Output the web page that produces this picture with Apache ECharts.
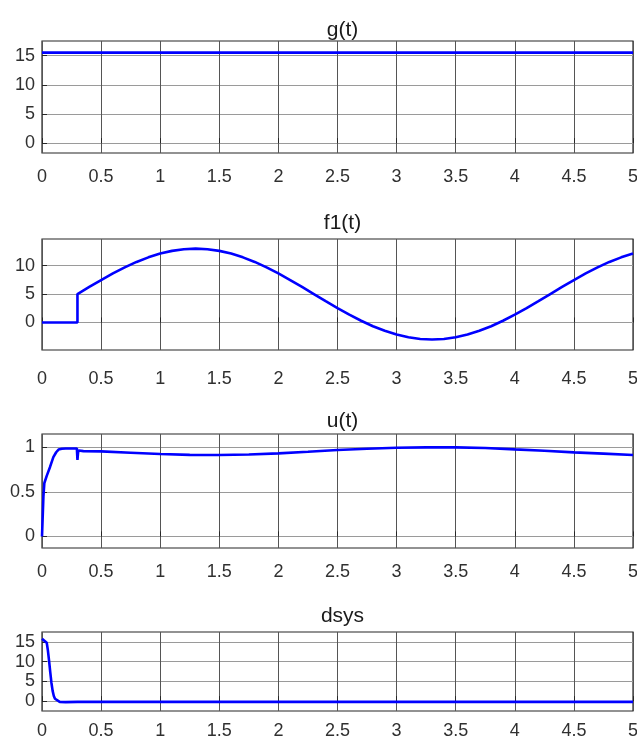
<!DOCTYPE html>
<html><head><meta charset="utf-8">
<script src="https://cdn.jsdelivr.net/npm/echarts@6/dist/echarts.min.js"></script>
<style>html,body{margin:0;padding:0;background:#fff}#c{width:637px;height:737px}</style>
</head><body><div id="c"></div>
<script>
// ---- data ----
const titles = ['g(t)', 'f1(t)', 'u(t)', 'dsys'];
const xTicks = [0, 0.5, 1, 1.5, 2, 2.5, 3, 3.5, 4, 4.5, 5];

const gT = [0, 5];
const gV = [15.5, 15.5];

const fT = [0, 0.3, 0.3, 0.4, 0.5, 0.6, 0.7, 0.8, 0.9, 1.0, 1.1, 1.2, 1.3, 1.4, 1.5, 1.6, 1.7, 1.8, 1.9, 2.0, 2.1, 2.2, 2.3, 2.4, 2.5, 2.6, 2.7, 2.8, 2.9, 3.0, 3.1, 3.2, 3.3, 3.4, 3.5, 3.6, 3.7, 3.8, 3.9, 4.0, 4.1, 4.2, 4.3, 4.4, 4.5, 4.6, 4.7, 4.8, 4.9, 5.0];
const fV = [0, 0, 5.0, 6.25, 7.47, 8.63, 9.70, 10.66, 11.47, 12.13, 12.61, 12.90, 13.0, 12.90, 12.61, 12.13, 11.47, 10.66, 9.70, 8.63, 7.47, 6.25, 5.0, 3.75, 2.53, 1.37, 0.30, -0.66, -1.47, -2.13, -2.61, -2.90, -3.0, -2.90, -2.61, -2.13, -1.47, -0.66, 0.30, 1.37, 2.53, 3.75, 5.0, 6.25, 7.47, 8.63, 9.70, 10.66, 11.47, 12.13];

const uT = [0, 0.012, 0.02, 0.04, 0.068, 0.096, 0.12, 0.14, 0.167, 0.2, 0.25, 0.295, 0.3, 0.305, 0.31, 0.32, 0.35, 0.5, 0.75, 1.0, 1.25, 1.5, 1.75, 2.0, 2.25, 2.5, 2.75, 3.0, 3.25, 3.5, 3.75, 4.0, 4.25, 4.5, 4.75, 5.0];
const uV = [0, 0.45, 0.6, 0.68, 0.78, 0.89, 0.945, 0.975, 0.985, 0.988, 0.988, 0.988, 0.86, 0.94, 0.965, 0.962, 0.958, 0.955, 0.94, 0.925, 0.916, 0.914, 0.92, 0.932, 0.95, 0.97, 0.985, 0.996, 1.0, 1.0, 0.993, 0.977, 0.962, 0.944, 0.93, 0.914];

const dT = [0, 0.004, 0.02, 0.04, 0.05, 0.06, 0.07, 0.08, 0.09, 0.1, 0.11, 0.125, 0.15, 0.2, 0.3, 5];
const dV = [15.8, 15.6, 15.3, 14.8, 12.8, 10.2, 7.3, 4.6, 2.6, 1.3, 0.6, 0.1, -0.2, -0.25, -0.2, -0.2];

const yTicks = [[0, 5, 10, 15], [0, 5, 10], [0, 0.5, 1], [0, 5, 10, 15]];
const yRange = [[-1.7, 17.5], [-4.85, 14.7], [-0.13, 1.15], [-2.5, 17.5]];

// ---- layout ----
const grids = [
  {top: 41, height: 112, titleTop: 15, xMargin: 15},
  {top: 239, height: 111, titleTop: 208, xMargin: 20},
  {top: 434, height: 114, titleTop: 406, xMargin: 15},
  {top: 632, height: 79, titleTop: 601, xMargin: 11}
];
const font = '"Liberation Sans Narrow", "Liberation Sans", Arial, sans-serif';
const seriesData = [
  gT.map((t, i) => [t, gV[i]]),
  fT.map((t, i) => [t, fV[i]]),
  uT.map((t, i) => [t, uV[i]]),
  dT.map((t, i) => [t, dV[i]])
];

const option = {
  animation: false,
  backgroundColor: '#ffffff',
  title: grids.map((g, i) => ({
    text: titles[i], left: 337.5, top: g.titleTop, textAlign: 'center',
    textStyle: {fontFamily: font, fontSize: 21, fontWeight: 'normal', color: '#1a1a1a'}
  })),
  grid: grids.map(g => ({
    left: 42, right: 4, top: g.top, height: g.height, show: true,
    containLabel: false, outerBoundsMode: 'none',
    borderColor: '#262626', borderWidth: 1.2, backgroundColor: 'transparent'
  })),
  xAxis: grids.map((g, i) => ({
    type: 'value', gridIndex: i, min: 0, max: 5, interval: 0.5,
    axisLine: {show: false},
    axisTick: {show: true, inside: true, length: 5, lineStyle: {color: '#262626'}},
    splitLine: {show: true, lineStyle: {color: '#555555', width: 1}},
    axisLabel: {
      fontFamily: font, fontSize: 18, color: '#303030', margin: g.xMargin,
      hideOverlap: false,
      customValues: xTicks, formatter: v => String(v)
    }
  })),
  yAxis: grids.map((g, i) => ({
    type: 'value', gridIndex: i, min: yRange[i][0], max: yRange[i][1],
    axisLine: {show: false},
    axisTick: {show: true, inside: true, length: 5, customValues: yTicks[i], lineStyle: {color: '#262626'}},
    splitLine: {show: true, lineStyle: {color: '#9a9a9a', width: 1}},
    axisLabel: {
      fontFamily: font, fontSize: 18, color: '#303030', margin: 7,
      hideOverlap: false,
      customValues: yTicks[i], formatter: v => String(v)
    }
  })),
  series: seriesData.map((d, i) => ({
    type: 'line', xAxisIndex: i, yAxisIndex: i, data: d,
    showSymbol: false, symbol: 'none', smooth: false,
    lineStyle: {color: '#0000ff', width: 2.6},
    clip: true
  }))
};
echarts.init(document.getElementById('c'), null, {renderer: 'canvas'}).setOption(option);
</script></body></html>
